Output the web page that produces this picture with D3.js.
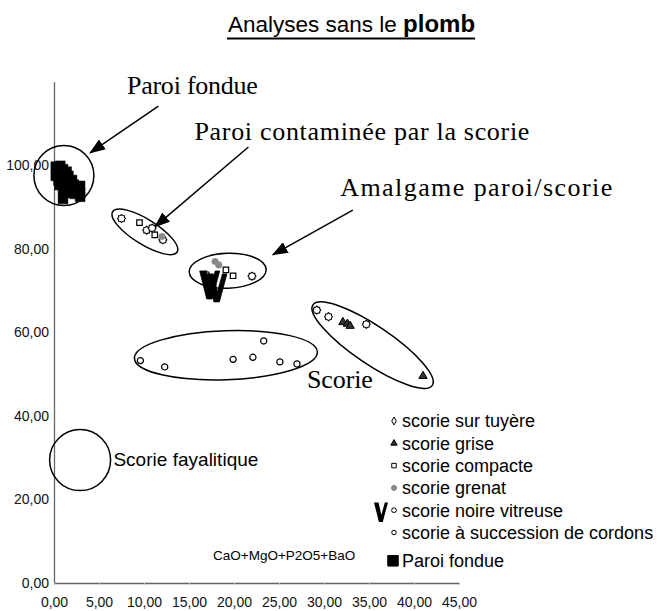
<!DOCTYPE html>
<html>
<head>
<meta charset="utf-8">
<script src="https://cdn.jsdelivr.net/npm/d3@7"></script>
<style>
  body { margin: 0; background: #fff; }
  svg { display: block; }
  .sans { font-family: 'Liberation Sans', Arial, sans-serif; }
  .serif { font-family: 'Liberation Serif', 'Times New Roman', serif; }
</style>
</head>
<body>
<svg id="chart" width="666" height="611"></svg>
<script>
'use strict';

// ---- data ----
var xTicks = [0, 5, 10, 15, 20, 25, 30, 35, 40, 45];
var yTicks = [0, 20, 40, 60, 80, 100];

var surTuyere = [[7.5, 87.2], [10.3, 84.4], [10.9, 84.9], [12.1, 82.1], [16.9, 73.7], [22.0, 73.4], [29.2, 65.3], [30.5, 63.7], [34.7, 61.9]];
var grise = [[32.1, 62.4], [32.6, 62.0], [32.9, 61.5], [41.0, 49.5]];
var compacte = [[9.5, 86.2], [11.2, 83.3], [19.1, 74.9], [19.9, 73.5]];
var grenat = [[12.0, 82.9], [17.9, 76.9], [18.3, 76.1]];
var noireVitreuse = [[17.3, 71.3], [18.1, 70.6]];
var successionCordons = [[9.6, 53.2], [12.3, 51.7], [19.9, 53.5], [22.1, 54.0], [23.3, 57.9], [25.1, 52.9], [27.0, 52.4]];
var paroiFondue = [[0.2, 99.6], [0.7, 99.8], [1.0, 99.0], [0.3, 98.6], [0.8, 98.2], [1.4, 98.4], [0.2, 97.4],
  [1.0, 97.2], [1.6, 97.4], [0.5, 96.3], [1.3, 96.0], [2.0, 96.4], [0.6, 95.2], [1.5, 95.0], [2.2, 95.3],
  [1.0, 94.2], [1.9, 94.0], [2.6, 94.4], [2.9, 95.0], [1.4, 93.3], [2.3, 93.1], [2.9, 93.4], [2.9, 92.4], [1.0, 91.9]];

var legendLabels = ['scorie sur tuyère', 'scorie grise', 'scorie compacte', 'scorie grenat',
  'scorie noire vitreuse', 'scorie à succession de cordons', 'Paroi fondue'];

// annotation shapes, in data units (radii in px)
var groupShapes = [
  {cx: 1.1, cy: 97.5, rx: 30, ry: 30, rot: 0},
  {cx: 10.1, cy: 84.0, rx: 38, ry: 12.5, rot: 32},
  {cx: 19.3, cy: 74.7, rx: 38.5, ry: 17.5, rot: -2},
  {cx: 35.4, cy: 56.9, rx: 72, ry: 19, rot: 34},
  {cx: 19.1, cy: 54.5, rx: 91.5, ry: 24.5, rot: -2},
  {cx: 2.9, cy: 29.4, rx: 30.5, ry: 30.5, rot: 0}
];
var groupLabels = [
  {text: 'Paroi fondue', x: 8.1, y: 117.0, cls: 'serif', size: 26, len: 131},
  {text: 'Paroi contaminée par la scorie', x: 15.6, y: 105.9, cls: 'serif', size: 26, len: 335},
  {text: 'Amalgame paroi/scorie', x: 31.8, y: 92.6, cls: 'serif', size: 26, len: 272},
  {text: 'Scorie', x: 28.1, y: 46.6, cls: 'serif', size: 26, len: 66},
  {text: 'Scorie fayalitique', x: 6.6, y: 28.0, cls: 'sans', size: 19, len: 145}
];
var arrows = [
  {x1: 11.6, y1: 114.1, x2: 4.0, y2: 102.9},
  {x1: 21.6, y1: 104.3, x2: 11.2, y2: 85.2},
  {x1: 33.2, y1: 89.2, x2: 24.3, y2: 78.5}
];

// ---- setup ----
var svg = d3.select('#chart');
var x = d3.scaleLinear().domain([0, 45]).range([54, 459]);
var y = d3.scaleLinear().domain([0, 120]).range([583, 81.4]);
var fmt = function(d) { return d3.format('.2f')(d).replace('.', ','); };

// flower-ish outline used for "sur tuyere"
var symbolFlower = {
  draw: function(ctx, size) {
    var r = Math.sqrt(size / Math.PI);
    for (var i = 0; i < 16; i++) {
      var a = i * Math.PI / 8;
      var rr = (i % 2 == 0) ? r : r * 0.8;
      if (i == 0) ctx.moveTo(rr * Math.cos(a), rr * Math.sin(a));
      else ctx.lineTo(rr * Math.cos(a), rr * Math.sin(a));
    }
    ctx.closePath();
  }
};
// bold hand-drawn looking V
var symbolV = {
  draw: function(ctx, size) {
    ctx.moveTo(-10, -14); ctx.lineTo(-3.5, -14); ctx.lineTo(0.5, 4);
    ctx.lineTo(5.5, -14); ctx.lineTo(10, -14); ctx.lineTo(2.5, 14); ctx.lineTo(-3, 14);
    ctx.closePath();
  }
};

svg.append('defs').append('marker')
  .attr('id', 'head')
  .attr('markerUnits', 'userSpaceOnUse')
  .attr('viewBox', '0 -6 16 12')
  .attr('markerWidth', 16).attr('markerHeight', 12)
  .attr('refX', 15).attr('refY', 0)
  .attr('orient', 'auto')
  .append('path').attr('d', 'M0,-6L16,0L0,6Z').attr('fill', '#000');

// ---- title ----
var title = svg.append('text').attr('class', 'sans')
  .attr('x', 228).attr('y', 32).attr('font-size', 22.5).attr('fill', '#000');
title.append('tspan').text('Analyses sans le ');
title.append('tspan').attr('font-weight', 'bold').attr('font-size', 24).text('plomb');
var tw = title.node().getComputedTextLength();
svg.append('line').attr('x1', 227).attr('x2', 228 + tw).attr('y1', 38.5).attr('y2', 38.5)
  .attr('stroke', '#000').attr('stroke-width', 1.8);

// ---- axes ----
var gy = svg.append('g').attr('class', 'sans').attr('transform', 'translate(' + x(0) + ',0)')
  .call(d3.axisLeft(y).tickValues(yTicks).tickSize(0).tickPadding(5).tickFormat(fmt));
var gx = svg.append('g').attr('class', 'sans').attr('transform', 'translate(0,' + y(0) + ')')
  .call(d3.axisBottom(x).tickValues(xTicks).tickSizeInner(2).tickSizeOuter(0).tickPadding(12).tickFormat(fmt));
[gx, gy].forEach(function(g) {
  g.select('.domain').attr('stroke', '#666').attr('stroke-width', 1.3);
  g.selectAll('.tick line').attr('stroke', '#bbb');
  g.selectAll('.tick text').attr('font-size', 14).attr('fill', '#111')
    .attr('font-family', "'Liberation Sans', Arial, sans-serif");
});

svg.append('text').attr('class', 'sans').attr('x', 213).attr('y', 560)
  .attr('font-size', 13.5).text('CaO+MgO+P2O5+BaO');

// ---- group ellipses and labels ----
svg.append('g').selectAll('ellipse').data(groupShapes).enter().append('ellipse')
  .attr('transform', function(d) { return 'translate(' + x(d.cx) + ',' + y(d.cy) + ') rotate(' + d.rot + ')'; })
  .attr('rx', function(d) { return d.rx; })
  .attr('ry', function(d) { return d.ry; })
  .attr('fill', 'none').attr('stroke', '#000').attr('stroke-width', 1.5);

svg.append('g').selectAll('line').data(arrows).enter().append('line')
  .attr('x1', function(d) { return x(d.x1); }).attr('y1', function(d) { return y(d.y1); })
  .attr('x2', function(d) { return x(d.x2); }).attr('y2', function(d) { return y(d.y2); })
  .attr('stroke', '#000').attr('stroke-width', 1.5).attr('marker-end', 'url(#head)');

svg.append('g').selectAll('text').data(groupLabels).enter().append('text')
  .attr('class', function(d) { return d.cls; })
  .attr('x', function(d) { return x(d.x); }).attr('y', function(d) { return y(d.y); })
  .attr('font-size', function(d) { return d.size; })
  .attr('textLength', function(d) { return d.len; })
  .attr('lengthAdjust', 'spacing')
  .text(function(d) { return d.text; });

// ---- points ----
function drawSeries(data, type, size, fill, stroke, sw) {
  svg.append('g').selectAll('path').data(data).enter().append('path')
    .attr('transform', function(d) { return 'translate(' + x(d[0]) + ',' + y(d[1]) + ')'; })
    .attr('d', d3.symbol().type(type).size(size))
    .attr('fill', fill).attr('stroke', stroke).attr('stroke-width', sw);
}
drawSeries(successionCordons, d3.symbolCircle, 30, '#fff', '#000', 1.2);
drawSeries(surTuyere, symbolFlower, 50, '#fff', '#000', 1.1);
drawSeries(compacte, d3.symbolSquare, 30, '#fff', '#000', 1.2);
drawSeries(grise, d3.symbolTriangle, 30, '#333', '#000', 1);
drawSeries(grenat, d3.symbolCircle, 34, '#888', '#888', 0.5);
drawSeries(noireVitreuse, symbolV, 1, '#000', '#000', 0.8);
drawSeries(paroiFondue, d3.symbolSquare, 96, '#000', '#000', 0.5);

// ---- legend ----
var legendMarks = [
  {type: d3.symbolDiamond, size: 18, fill: '#fff', stroke: '#000'},
  {type: d3.symbolTriangle, size: 18, fill: '#333', stroke: '#000'},
  {type: d3.symbolSquare, size: 20, fill: '#fff', stroke: '#000'},
  {type: d3.symbolCircle, size: 20, fill: '#888', stroke: '#888'},
  {type: symbolFlower, size: 22, fill: '#fff', stroke: '#000'},
  {type: d3.symbolCircle, size: 16, fill: '#fff', stroke: '#000'},
  {type: d3.symbolSquare, size: 110, fill: '#000', stroke: '#000'}
];
var legendY = function(i) { return 421 + i * 22.3 + (i == 6 ? 6 : 0); };
var lg = svg.append('g').attr('class', 'sans');
legendLabels.forEach(function(lbl, i) {
  var m = legendMarks[i];
  if (i == 4) {
    lg.append('path').attr('transform', 'translate(381,' + (legendY(i) + 2) + ') scale(0.7)')
      .attr('d', d3.symbol().type(symbolV).size(1)()).attr('fill', '#000');
  }
  lg.append('path').attr('transform', 'translate(' + (i == 6 ? 393 : 394) + ',' + legendY(i) + ')')
    .attr('d', d3.symbol().type(m.type).size(m.size)())
    .attr('fill', m.fill).attr('stroke', m.stroke).attr('stroke-width', 1);
  lg.append('text').attr('x', 402).attr('y', legendY(i)).attr('dy', '0.36em')
    .attr('font-size', 18).text(lbl);
});
</script>
</body>
</html>
